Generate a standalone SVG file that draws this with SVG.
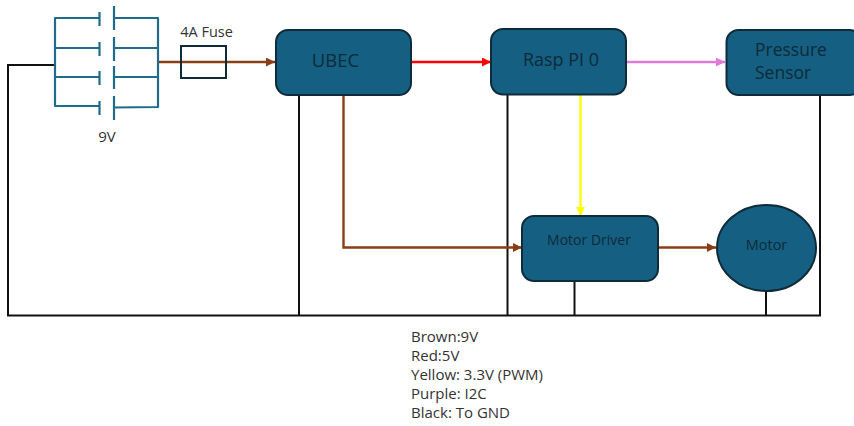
<svg xmlns="http://www.w3.org/2000/svg" width="854" height="426" viewBox="0 0 854 426">
<style>
text{font-family:"Open Sans","Noto Sans","Liberation Sans",sans-serif;fill:#0e2a38}
.l{font-size:15px;fill:#333}
.box{fill:#156082;stroke:#0f2b3a;stroke-width:2}
.gnd{fill:none;stroke:#111;stroke-width:2}
.bat{fill:none;stroke:#1f6b8c;stroke-width:2.2;stroke-linejoin:round}
.c{fill:none;stroke-width:2.4}
</style>
<defs>
<marker id="ab" markerWidth="10" markerHeight="10" refX="9" refY="4.500" orient="auto" markerUnits="userSpaceOnUse"><path d="M0 0L9 4.500L0 9Z" fill="#8b3e14"/></marker>
<marker id="ar" markerWidth="10" markerHeight="10" refX="9" refY="4.500" orient="auto" markerUnits="userSpaceOnUse"><path d="M0 0L9 4.500L0 9Z" fill="#f00"/></marker>
<marker id="ap" markerWidth="10" markerHeight="10" refX="9" refY="4.500" orient="auto" markerUnits="userSpaceOnUse"><path d="M0 0L9 4.500L0 9Z" fill="#e07ad6"/></marker>
<marker id="ay" markerWidth="10" markerHeight="10" refX="9" refY="4.500" orient="auto" markerUnits="userSpaceOnUse"><path d="M0 0L9 4.500L0 9Z" fill="#ff0"/></marker>
</defs>
<g id="connectors">
<path class="gnd" d="M54 65H8V315.500H820V95M299 95V315M507.500 95V315M574.500 280V315M766 291V315"/>
<path class="c" stroke="#8b3e14" marker-end="url(#ab)" d="M159 62H275"/>
<path class="c" stroke="#f00" marker-end="url(#ar)" d="M411 62H491"/>
<path class="c" stroke="#e07ad6" marker-end="url(#ap)" d="M626 62H725"/>
<path class="c" stroke="#ff0" marker-end="url(#ay)" d="M580.500 95V216"/>
<path class="c" stroke="#8b3e14" marker-end="url(#ab)" d="M343.500 95V247.500H522"/>
<path class="c" stroke="#8b3e14" marker-end="url(#ab)" d="M659 247.500H716"/>
</g>
<g id="battery">
<path class="bat" d="M99.500 18H55V106H99.500M114 18H158V107L114 107.500M55 48H99.500M114 48H158M55 77H99.500M114 77H158M99.500 12V26M114 6V30M99.500 42V56M114 37V61M99.500 71V85M114 66V89M99.500 101V115M114 96V120"/>
<text class="l" x="107" y="142" text-anchor="middle">9V</text>
</g>
<g id="fuse">
<rect x="181" y="46" width="45" height="32" fill="none" stroke="#0f2b3a" stroke-width="2"/>
<text class="l" x="206.500" y="37" text-anchor="middle" style="font-size:14.500px">4A Fuse</text>
</g>
<g id="ubec">
<rect class="box" x="276" y="30" width="135" height="65" rx="12"/>
<text x="335.500" y="66.500" font-size="18.500" text-anchor="middle">UBEC</text>
</g>
<g id="rasp">
<rect class="box" x="491" y="29" width="135" height="65.500" rx="12"/>
<text x="561" y="66" font-size="18" text-anchor="middle">Rasp PI 0</text>
</g>
<g id="pressure">
<rect class="box" x="726.500" y="30" width="135" height="65" rx="12"/>
<text x="755" y="56" font-size="17.500">Pressure</text>
<text x="755" y="79" font-size="17.500">Sensor</text>
</g>
<g id="driver">
<rect class="box" x="522" y="216" width="136" height="65" rx="12"/>
<text x="589" y="245" font-size="14" text-anchor="middle">Motor Driver</text>
</g>
<g id="motor">
<ellipse class="box" cx="766.500" cy="248" rx="49.500" ry="43"/>
<text x="766.500" y="250" font-size="14.500" text-anchor="middle">Motor</text>
</g>
<g id="legend">
<text class="l" x="411" y="342">Brown:9V</text>
<text class="l" x="411" y="361">Red:5V</text>
<text class="l" x="411" y="380">Yellow: 3.3V (PWM)</text>
<text class="l" x="411" y="399">Purple: I2C</text>
<text class="l" x="411" y="418">Black: To GND</text>
</g>
</svg>
